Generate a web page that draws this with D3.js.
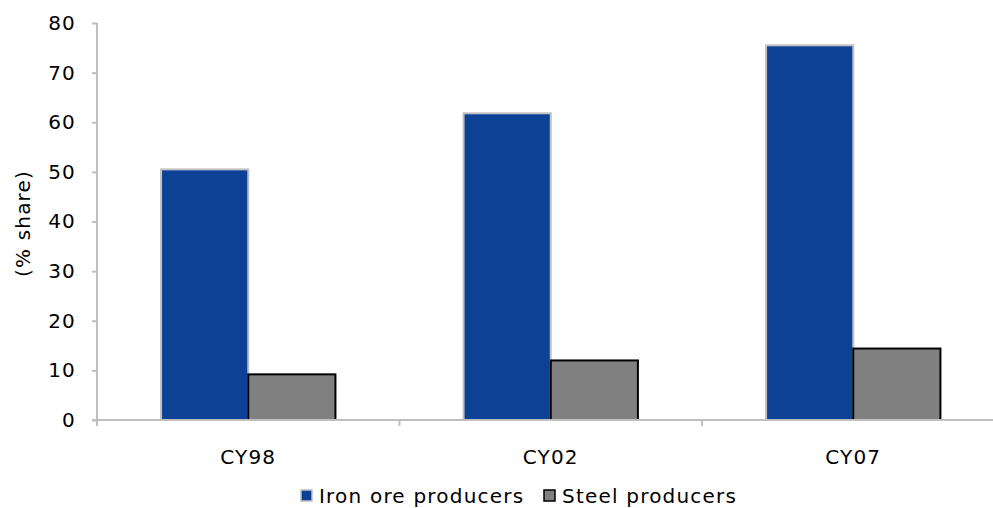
<!DOCTYPE html>
<html>
<head>
<meta charset="utf-8">
<script src="https://cdn.jsdelivr.net/npm/d3@7/dist/d3.min.js"></script>
<style>
  html, body { margin: 0; padding: 0; background: #fff; }
  svg { display: block; }
  text { font-family: "DejaVu Sans", Verdana, sans-serif; font-size: 20px; fill: #000; letter-spacing: 1.2px; }
</style>
</head>
<body>
<svg id="chart" width="993" height="508"></svg>
<script>
// Share of industry profits, by producer type
const categories = ["CY98", "CY02", "CY07"];
const seriesNames = ["Iron ore producers", "Steel producers"];
const ironOre = [50.5, 61.8, 75.5];
const steel = [9.2, 12.0, 14.4];
const yTicks = [0, 10, 20, 30, 40, 50, 60, 70, 80];

const colors = ["#0c4196", "#808080"];
const strokes = ["#c0c0c0", "#000000"];

const svg = d3.select("#chart");
const margin = { left: 97, top: 23, bottom: 88 };
const H = 508;
const plotBottom = H - margin.bottom; // y of zero line

const x = d3.scaleBand()
  .domain(categories)
  .range([margin.left, margin.left + 302.5 * categories.length])
  .paddingInner(0)
  .paddingOuter(0);

const x1 = d3.scaleBand()
  .domain(seriesNames)
  .range([0, x.bandwidth()])
  .paddingInner(0)
  .paddingOuter(0.735);

const y = d3.scaleLinear().domain([0, 80]).range([plotBottom, margin.top]);

// y axis
const yAxis = svg.append("g")
  .attr("transform", `translate(${margin.left},0)`)
  .call(d3.axisLeft(y).tickValues(yTicks).tickSize(5).tickPadding(16));
yAxis.select(".domain").attr("stroke", "#bfbfbf").attr("stroke-width", 2)
  .attr("d", `M0,${y(80)}V${y(0)}`);
yAxis.selectAll(".tick line").attr("stroke", "#bfbfbf").attr("stroke-width", 2);
yAxis.selectAll(".tick text").attr("font-size", 20).attr("font-family", null);

// bars
const rows = categories.map((c, i) => ({ cat: c, vals: [ironOre[i], steel[i]] }));
const groups = svg.append("g").selectAll("g")
  .data(rows).join("g")
  .attr("transform", d => `translate(${x(d.cat)},0)`);

groups.selectAll("rect")
  .data(d => d.vals.map((v, j) => ({ name: seriesNames[j], v, j })))
  .join("rect")
  .attr("x", d => x1(d.name))
  .attr("width", x1.bandwidth())
  .attr("y", d => y(d.v))
  .attr("height", d => y(0) - y(d.v))
  .attr("fill", d => colors[d.j])
  .attr("stroke", d => strokes[d.j])
  .attr("stroke-width", 2);

// x axis
const xAxis = svg.append("g")
  .attr("transform", `translate(0,${plotBottom})`)
  .call(d3.axisBottom(x).tickSize(0).tickPadding(30));
xAxis.select(".domain").attr("stroke", "#bfbfbf").attr("stroke-width", 2)
  .attr("d", `M${margin.left - 5},0H${x.range()[1]}`);
xAxis.selectAll(".tick text").attr("font-size", 20).attr("font-family", null);
// boundary ticks between categories
xAxis.selectAll("line.sep")
  .data(d3.range(categories.length + 1).map(i => x.range()[0] + i * x.step()))
  .join("line")
  .attr("class", "sep")
  .attr("x1", d => d).attr("x2", d => d)
  .attr("y1", 0).attr("y2", 6)
  .attr("stroke", "#bfbfbf").attr("stroke-width", 2);

// y axis title
svg.append("text")
  .attr("transform", `translate(30,${(y(80) + y(0)) / 2 + 2}) rotate(-90)`)
  .attr("text-anchor", "middle")
  .text("(% share)");

// legend
const legend = svg.append("g").attr("transform", "translate(300,489)");
const legendX = [0, 243];
seriesNames.forEach((n, i) => {
  const g = legend.append("g").attr("transform", `translate(${legendX[i]},0)`);
  g.append("rect").attr("x", 1).attr("y", 1).attr("width", 11).attr("height", 11)
    .attr("fill", colors[i]).attr("stroke", strokes[i]).attr("stroke-width", 1.5);
  g.append("text").attr("x", 19).attr("y", 14).text(n);
});
</script>
</body>
</html>
